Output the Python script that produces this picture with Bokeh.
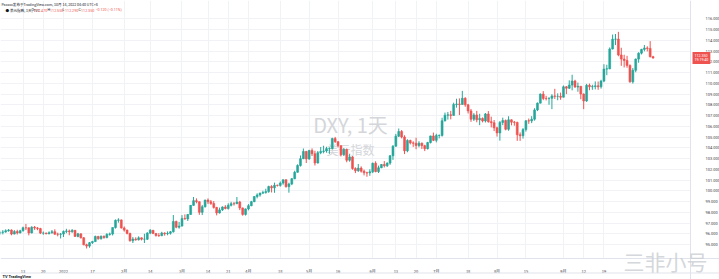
from bokeh.plotting import figure
from bokeh.models import (FixedTicker, Label, PrintfTickFormatter, ColumnDataSource,
                          BoxAnnotation, Span)
from bokeh.embed import file_html
from bokeh.resources import INLINE

# ---- DXY daily candles (Dec 2 2021 .. Oct 14 2022) ----
opens = [96.03, 96.14, 96.16, 96.28, 96.35, 95.97, 96.20, 96.08, 96.28, 96.56,
         96.55, 96.08, 96.61, 96.54, 96.48, 96.06, 96.06, 96.00, 96.10, 96.19,
         95.96, 95.95,
         95.97, 96.22, 96.26, 96.18, 96.32, 95.75, 95.99, 95.62, 94.97, 94.85,
         95.17, 95.27, 95.74, 95.53, 95.77, 95.64, 95.94, 95.98, 96.58, 97.25, 97.29,
         96.54, 96.34, 96.03, 95.35, 95.51, 95.44, 95.62, 95.49, 95.49, 96.06,
         96.32, 96.03, 95.84, 95.82, 96.07, 96.00, 96.04, 96.18, 97.14, 96.61,
         96.71, 97.41, 97.38, 97.79, 98.64, 99.08, 98.98, 97.99, 98.51, 99.13,
         98.97, 98.81, 98.45, 97.93, 98.22, 98.49, 98.35, 98.64, 98.80, 98.79,
         98.95, 98.40, 97.80,
         98.31, 98.61, 98.98, 99.46, 99.61, 99.78, 99.83, 99.92, 100.39, 100.27,
         100.51, 100.50, 100.71, 101.03, 100.38, 100.63, 101.12, 101.72, 102.35, 102.98, 103.66,
         102.96, 103.75, 103.44, 102.58, 103.54, 103.66, 103.70, 103.92, 103.92, 104.85,
         104.56, 104.19, 103.35, 103.84, 102.84, 103.15, 102.06, 101.86, 102.11, 101.82,
         101.67, 101.66,
         101.76, 102.56, 101.78, 102.14, 102.44, 102.33, 102.57, 103.25, 104.15, 105.08,
         105.51, 105.00, 103.71, 104.68, 104.45, 104.43, 104.21, 104.43, 104.19, 103.91,
         104.48, 105.10,
         104.69, 105.14, 105.14, 106.51, 107.03, 107.06, 107.01, 108.03, 108.07, 108.03,
         108.60, 107.99, 107.43, 106.65, 107.05, 106.60, 106.73, 106.49, 107.14, 106.43,
         106.33,
         105.85, 105.38, 106.36, 106.53, 105.72, 106.60, 106.38, 106.36, 105.21, 105.12,
         105.69, 106.51, 106.49, 106.66, 107.52, 108.15, 108.99, 108.59, 108.57, 108.60,
         108.82, 108.78, 108.78,
         108.70, 109.67, 109.54, 109.83, 110.21, 109.64, 109.72, 109.00, 108.35, 109.81,
         109.68, 109.69, 109.76, 109.67, 110.20, 111.32, 111.34, 113.19, 114.10, 114.11,
         112.63, 112.25,
         112.12, 111.66, 110.13, 111.21, 112.25, 112.80, 113.15, 113.28, 113.24, 112.47]

highs = [96.28, 96.34, 96.41, 96.44, 96.40, 96.34, 96.37, 96.37, 96.66, 96.91,
         96.59, 96.70, 96.72, 96.62, 96.55, 96.21, 96.11, 96.22, 96.35, 96.42,
         96.10, 96.07,
         96.30, 96.46, 96.39, 96.43, 96.34, 96.08, 96.03, 95.69, 95.07, 95.23,
         95.34, 95.83, 95.81, 95.83, 95.83, 96.05, 96.11, 96.58, 97.33, 97.44, 97.32,
         96.68, 96.38, 96.10, 95.69, 95.67, 95.76, 95.65, 96.00, 96.15, 96.43,
         96.35, 96.05, 96.06, 96.18, 96.13, 96.22, 96.26, 97.74, 97.22, 97.10,
         97.73, 97.80, 97.84, 98.67, 99.42, 99.29, 99.00, 98.68, 99.17, 99.29,
         99.14, 99.04, 98.50, 98.43, 98.55, 98.66, 98.83, 98.97, 98.96, 99.42,
         99.06, 98.43, 98.35,
         98.76, 99.06, 99.49, 99.76, 99.82, 100.00, 100.19, 100.47, 100.52, 100.76,
         100.57, 100.86, 101.03, 101.04, 100.75, 101.18, 101.86, 102.46, 103.28, 103.93, 103.70,
         103.80, 103.94, 103.72, 103.70, 104.07, 104.19, 104.09, 104.04, 104.93, 105.01,
         104.61, 104.21, 103.98, 103.93, 103.41, 103.22, 102.18, 102.49, 102.27, 101.97,
         101.77, 102.00,
         102.62, 102.74, 102.34, 102.49, 102.76, 102.64, 103.33, 104.24, 105.29, 105.79,
         105.65, 105.16, 104.79, 104.75, 104.60, 104.93, 104.61, 104.48, 104.28, 104.55,
         105.12, 105.41,
         105.30, 105.24, 106.79, 107.27, 107.33, 107.43, 108.19, 108.56, 108.59, 109.29,
         108.70, 108.08, 107.61, 107.22, 107.43, 107.16, 106.82, 107.23, 107.41, 106.89,
         106.58,
         105.96, 106.48, 106.80, 106.63, 106.93, 106.64, 106.49, 106.42, 105.43, 105.83,
         106.56, 106.72, 106.94, 107.68, 108.21, 109.05, 109.27, 108.83, 108.70, 108.98,
         109.48, 109.06, 109.13,
         109.79, 109.74, 110.27, 110.79, 110.32, 110.06, 109.72, 109.05, 109.94, 109.97,
         109.86, 110.17, 110.16, 110.32, 111.77, 111.72, 113.33, 114.53, 114.58, 114.78,
         113.30, 112.65,
         112.55, 111.75, 111.42, 112.30, 112.88, 113.20, 113.56, 113.44, 113.92, 112.55]

lows = [95.87, 95.94, 96.10, 96.19, 95.86, 95.94, 95.93, 96.03, 96.20, 96.34,
        95.85, 96.03, 96.36, 96.33, 95.97, 95.90, 95.95, 95.95, 96.00, 95.90,
        95.76, 95.56,
        95.70, 96.05, 95.86, 96.10, 95.71, 95.67, 95.56, 94.93, 94.63, 94.70,
        95.05, 95.23, 95.45, 95.46, 95.54, 95.58, 95.82, 95.84, 96.48, 97.03, 96.48,
        96.20, 95.94, 95.27, 95.14, 95.35, 95.37, 95.38, 95.14, 95.42, 95.96,
        95.96, 95.73, 95.71, 95.78, 95.82, 95.86, 95.92, 96.11, 96.51, 96.47,
        96.69, 97.31, 97.19, 97.77, 98.60, 98.83, 97.76, 97.74, 98.44, 98.76,
        98.69, 98.34, 97.71, 97.88, 98.12, 98.27, 98.25, 98.54, 98.62, 98.76,
        98.20, 97.68, 97.69,
        98.18, 98.56, 98.94, 99.29, 99.45, 99.69, 99.73, 99.81, 99.84, 99.81,
        100.39, 100.38, 100.56, 100.29, 99.82, 100.52, 101.07, 101.68, 102.25, 102.94, 102.58,
        102.87, 103.23, 102.35, 102.53, 103.40, 103.48, 103.54, 103.43, 103.85, 104.45,
        104.03, 103.19, 103.23, 102.65, 102.70, 101.96, 101.64, 101.76, 101.69, 101.43,
        101.30, 101.39,
        101.64, 101.72, 101.65, 102.10, 102.17, 102.21, 102.41, 102.87, 104.09, 105.00,
        104.87, 103.41, 103.58, 104.31, 104.08, 103.86, 104.04, 103.88, 103.69, 103.84,
        104.40, 104.62,
        104.50, 104.87, 105.04, 106.44, 106.62, 106.64, 106.99, 107.73, 107.04, 107.99,
        107.81, 107.19, 106.41, 106.49, 106.37, 106.10, 106.36, 106.35, 106.33, 105.89,
        105.55,
        105.04, 104.66, 106.10, 105.62, 105.58, 106.08, 106.05, 104.64, 104.64, 104.85,
        105.50, 106.22, 106.29, 106.52, 107.41, 108.13, 108.43, 108.40, 108.00, 107.59,
        108.54, 108.42, 108.46,
        108.68, 108.99, 109.47, 109.34, 109.59, 109.21, 108.51, 107.59, 108.27, 109.35,
        109.39, 109.43, 109.39, 109.50, 110.10, 110.75, 111.31, 113.14, 113.55, 112.51,
        111.62, 111.47,
        111.44, 110.05, 109.97, 111.02, 111.91, 112.68, 112.97, 112.96, 112.40, 112.29]

closes = [96.14, 96.16, 96.28, 96.35, 95.97, 96.20, 96.08, 96.28, 96.56, 96.55,
          96.08, 96.61, 96.54, 96.48, 96.06, 96.06, 96.00, 96.10, 96.19, 95.96,
          95.95, 95.97,
          96.22, 96.26, 96.18, 96.32, 95.75, 95.99, 95.62, 94.97, 94.85, 95.17,
          95.27, 95.74, 95.53, 95.77, 95.64, 95.94, 95.98, 96.58, 97.25, 97.29, 96.54,
          96.34, 96.03, 95.35, 95.51, 95.44, 95.62, 95.49, 95.49, 96.06, 96.32,
          96.03, 95.84, 95.82, 96.07, 96.00, 96.04, 96.18, 97.14, 96.61, 96.71,
          97.41, 97.38, 97.79, 98.64, 99.08, 98.98, 97.99, 98.51, 99.13, 98.97,
          98.81, 98.45, 97.93, 98.22, 98.49, 98.35, 98.64, 98.80, 98.79, 98.95,
          98.40, 97.80, 98.31,
          98.61, 98.98, 99.46, 99.61, 99.78, 99.83, 99.92, 100.39, 100.27, 100.51,
          100.50, 100.71, 101.03, 100.38, 100.63, 101.12, 101.72, 102.35, 102.98, 103.66, 102.96,
          103.75, 103.44, 102.58, 103.54, 103.66, 103.70, 103.92, 103.92, 104.85, 104.56,
          104.19, 103.35, 103.84, 102.84, 103.15, 102.06, 101.86, 102.11, 101.82, 101.67,
          101.66, 101.76,
          102.56, 101.78, 102.14, 102.44, 102.33, 102.57, 103.25, 104.15, 105.08, 105.51,
          105.00, 103.71, 104.68, 104.45, 104.43, 104.21, 104.43, 104.19, 103.91, 104.48,
          105.10, 104.69,
          105.14, 105.14, 106.51, 107.03, 107.06, 107.01, 108.03, 108.07, 108.03, 108.60,
          107.99, 107.43, 106.65, 107.05, 106.60, 106.73, 106.49, 107.14, 106.43, 106.33,
          105.85,
          105.38, 106.36, 106.53, 105.72, 106.60, 106.38, 106.36, 105.21, 105.12, 105.69,
          106.51, 106.49, 106.66, 107.52, 108.15, 108.99, 108.59, 108.57, 108.60, 108.82,
          108.78, 108.78, 108.70,
          109.67, 109.54, 109.83, 110.21, 109.64, 109.72, 109.00, 108.35, 109.81, 109.68,
          109.69, 109.76, 109.67, 110.20, 111.32, 111.34, 113.19, 114.10, 114.11, 112.63,
          112.25, 112.12,
          111.66, 110.13, 111.21, 112.25, 112.80, 113.15, 113.28, 113.24, 112.47, 112.35]

time_tick_pos = [8, 15, 22, 32, 43, 52, 63, 72, 79, 86, 97, 107, 117, 129, 137, 144,
                 151, 162, 172, 182, 195, 202, 209]
time_tick_labels = ["13", "20", "2022", "17", "2月", "14", "3月", "14", "21", "4月",
                    "18", "5月", "16", "6月", "13", "20", "7月", "18", "8月", "15",
                    "9月", "12", "19"]
price_ticks = [95, 96, 97, 98, 99, 100, 101, 102, 103, 104, 105, 106, 107, 108,
               109, 110, 111, 112, 113, 114, 115, 116]

UP = "#26a69a"
DOWN = "#ef5350"
GRID = "#f0f2f5"
AXIS_TXT = "#3b3e46"
BORDER = "#e0e3eb"

n = len(closes)
idx = list(range(n))
colors = [UP if c >= o else DOWN for o, c in zip(opens, closes)]
src = ColumnDataSource(dict(x=idx, o=opens, h=highs, l=lows, c=closes,
                            top=[max(o, c) for o, c in zip(opens, closes)],
                            bot=[min(o, c) for o, c in zip(opens, closes)],
                            color=colors))

# The frame covers the whole canvas; the pane is 690 x 258 px and the
# price / time scales are drawn at fixed locations along its edges.
W, H = 719, 279
PANE_W, PANE_H = 690, 258
BAR_PX = 2.89
X0_PX = -0.58
PX_PER_PT = 10.75
x_start = (0 - X0_PX) / BAR_PX
x_end = (W - X0_PX) / BAR_PX
y_end = 115 + 29 / PX_PER_PT
y_start = y_end - H / PX_PER_PT


def dx(px):
    return (px - X0_PX) / BAR_PX


def dy(py):
    return y_end - py / PX_PER_PT


p = figure(width=W, height=H, output_backend="svg", toolbar_location=None,
           x_range=(x_start, x_end), y_range=(y_start, y_end),
           y_axis_location="right",
           min_border_left=0, min_border_top=0, min_border_right=0, min_border_bottom=0)
p.outline_line_color = None
p.background_fill_color = "white"
p.border_fill_color = "white"

p.xgrid.grid_line_color = GRID
p.ygrid.grid_line_color = GRID

# white price-scale / time-scale areas over the grid
p.add_layout(BoxAnnotation(left=dx(PANE_W), fill_color="white", fill_alpha=1.0,
                           line_alpha=0, level="underlay"))
p.add_layout(BoxAnnotation(top=dy(PANE_H), fill_color="white", fill_alpha=1.0,
                           line_alpha=0, level="underlay"))

# axes at fixed locations
p.yaxis.fixed_location = dx(PANE_W)
p.yaxis.ticker = FixedTicker(ticks=price_ticks)
p.yaxis.formatter = PrintfTickFormatter(format="%.3f")
p.yaxis.major_label_text_font_size = "4px"
p.yaxis.major_label_text_color = AXIS_TXT
p.yaxis.major_label_text_font = "Roboto"
p.yaxis.major_tick_line_color = None
p.yaxis.minor_tick_line_color = None
p.yaxis.axis_line_color = BORDER
p.yaxis.major_label_standoff = 9

p.xaxis.fixed_location = dy(PANE_H)
p.xaxis.ticker = FixedTicker(ticks=time_tick_pos)
p.xaxis.major_label_overrides = {t: s for t, s in zip(time_tick_pos, time_tick_labels)}
p.xaxis.major_label_text_font_size = "4px"
p.xaxis.major_label_text_color = AXIS_TXT
p.xaxis.major_label_text_font = "Noto Sans CJK SC"
p.xaxis.major_tick_line_color = None
p.xaxis.minor_tick_line_color = None
p.xaxis.axis_line_color = BORDER
p.xaxis.major_label_standoff = 3

# line above the bottom toolbar strip
p.add_layout(Span(location=dy(272.5), dimension="width", line_color=BORDER, line_width=1))

# background watermark
p.add_layout(Label(x=dx(350), y=dy(124), text="DXY, 1天", text_align="center",
                   text_baseline="middle", text_font="Noto Sans CJK SC",
                   text_font_size="20px", text_color="#d4d6da", level="underlay"))
p.add_layout(Label(x=dx(350), y=dy(149), text="美元指数", text_align="center",
                   text_baseline="middle", text_font="Noto Sans CJK SC",
                   text_font_size="12px", text_color="#d4d6da", level="underlay"))

# candles
p.segment(x0="x", y0="l", x1="x", y1="h", line_color="color", line_width=1, source=src)
p.vbar(x="x", width=0.66, top="top", bottom="bot", fill_color="color",
       line_color="color", line_width=0.6, source=src)

# header lines
p.add_layout(Label(x=dx(1), y=dy(3.5), text="Paxxxx发布于TradingView.com, 10月 14, 2022 04:40 UTC+8",
                   text_baseline="middle", text_font="Noto Sans CJK SC",
                   text_font_size="3.6px", text_color="#131722"))
p.add_layout(Label(x=dx(5), y=dy(9.5), text="● 美元指数, 1天, TVC",
                   text_baseline="middle", text_font="Noto Sans CJK SC",
                   text_font_size="3.6px", text_color="#131722"))
hdr = [("O", "112.470", 31), ("H", "112.550", 47), ("L", "112.290", 62), ("C", "112.350", 78)]
for k, v, px in hdr:
    p.add_layout(Label(x=dx(px), y=dy(9.5), text=k, text_baseline="middle",
                       text_font="Roboto", text_font_size="3.6px", text_color="#131722"))
    p.add_layout(Label(x=dx(px + 2.6), y=dy(9.5), text=v, text_baseline="middle",
                       text_font="Roboto", text_font_size="3.6px", text_color=DOWN))
p.add_layout(Label(x=dx(95), y=dy(9.5), text="−0.120 (−0.11%)", text_baseline="middle",
                   text_font="Roboto", text_font_size="3.6px", text_color=DOWN))

# last-price tag on the price scale
p.add_layout(Label(x=dx(692), y=closes[-1], text="112.350\n19:19:40",
                   text_baseline="middle", text_align="left",
                   text_font="Roboto", text_font_size="3.6px", text_color="white",
                   background_fill_color=DOWN, padding=2, text_line_height=1.0))

# bottom-left logo
p.add_layout(Label(x=dx(2), y=dy(276), text="TV TradingView", text_baseline="middle",
                   text_font="Roboto", text_font_style="bold",
                   text_font_size="4px", text_color="#131722"))

# bottom-right watermark
p.add_layout(Label(x=dx(623), y=dy(260), text="三非小号", text_baseline="middle",
                   text_font="Noto Sans CJK SC", text_font_size="21px",
                   text_color="#c9ccd1", text_alpha=0.8))

open("out.html", "w").write(file_html(p, INLINE))
